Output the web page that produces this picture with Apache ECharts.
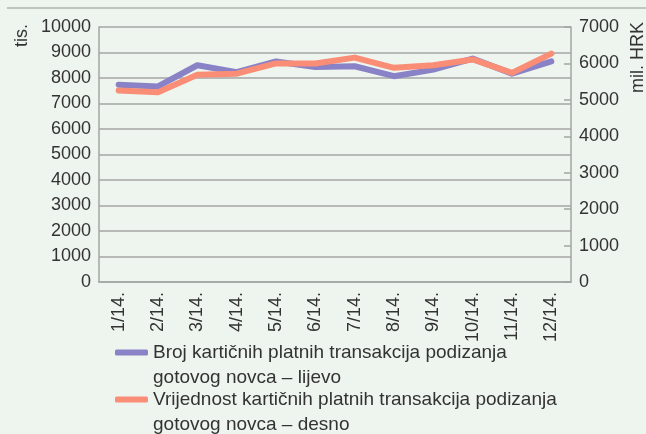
<!DOCTYPE html>
<html>
<head>
<meta charset="utf-8">
<script src="https://cdn.jsdelivr.net/npm/echarts@6/dist/echarts.min.js"></script>
<style>
  html, body { margin: 0; padding: 0; background: #eef4ee; }
  #chart { width: 646px; height: 434px; }
</style>
</head>
<body>
<div id="chart"></div>
<script>
// podaci
var months = ['1/14.', '2/14.', '3/14.', '4/14.', '5/14.', '6/14.', '7/14.', '8/14.', '9/14.', '10/14.', '11/14.', '12/14.'];
var brojTransakcija = [7740, 7670, 8500, 8230, 8650, 8430, 8460, 8070, 8330, 8760, 8170, 8650];
var vrijednostTransakcija = [5260, 5210, 5690, 5720, 6000, 6000, 6160, 5880, 5950, 6110, 5740, 6270];
var seriesNames = [
  'Broj karti\u010dnih platnih transakcija podizanja\ngotovog novca \u2013 lijevo',
  'Vrijednost karti\u010dnih platnih transakcija podizanja\ngotovog novca \u2013 desno'
];

var myChart = echarts.init(document.getElementById('chart'));
var font = '"Liberation Sans", Arial, sans-serif';
var gray = '#a3a6a3';
var plain = function (v) { return String(v); };

var option = {
  backgroundColor: '#eef4ee',
  textStyle: { fontFamily: font },
  grid: { left: 99, right: 75, top: 27, bottom: 152 },
  legend: {
    orient: 'vertical',
    left: 110,
    top: 310,
    height: 200,
    padding: 5,
    itemWidth: 33,
    itemHeight: 6,
    itemGap: -28,
    icon: 'roundRect',
    // prazan red iznad, da ikona stoji uz prvi red teksta
    formatter: function (name) { return '\n' + name; },
    textStyle: { fontSize: 19, color: '#333', lineHeight: 25 },
    data: seriesNames
  },
  xAxis: {
    type: 'category',
    data: months,
    boundaryGap: true,
    axisLine: { lineStyle: { color: gray, width: 1.5 } },
    axisTick: { show: false },
    axisLabel: { rotate: 90, fontSize: 18, color: '#333', margin: 10, interval: 0 }
  },
  yAxis: [{
    type: 'value',
    min: 0, max: 10000, interval: 1000,
    axisLine: { show: true, lineStyle: { color: gray, width: 1.5 } },
    axisTick: { show: false },
    axisLabel: { fontSize: 18, color: '#333', margin: 8, formatter: plain },
    splitLine: { lineStyle: { color: gray, width: 1.5 } }
  }, {
    type: 'value',
    min: 0, max: 7000, interval: 1000,
    axisLine: { show: true, lineStyle: { color: gray, width: 1.5 } },
    axisTick: { show: true, inside: true, length: 7, lineStyle: { color: gray, width: 1.5 } },
    axisLabel: { fontSize: 18, color: '#333', margin: 8, formatter: plain },
    splitLine: { show: false }
  }],
  graphic: [
    { type: 'line', shape: { x1: 7, y1: 8, x2: 646, y2: 8 }, style: { stroke: '#b0b3b0', lineWidth: 1.5 } },
    { type: 'text', x: 22, y: 24, rotation: Math.PI / 2,
      style: { text: 'tis.', font: '18px ' + font, fill: '#333', align: 'right', verticalAlign: 'middle' } },
    { type: 'text', x: 638, y: 22, rotation: Math.PI / 2,
      style: { text: 'mil. HRK', font: '18px ' + font, fill: '#333', align: 'right', verticalAlign: 'middle' } }
  ],
  series: [{
    name: seriesNames[0],
    type: 'line',
    yAxisIndex: 0,
    data: brojTransakcija,
    symbol: 'none',
    color: '#8a82c6',
    lineStyle: { width: 6, color: '#8a82c6', cap: 'round', join: 'round' }
  }, {
    name: seriesNames[1],
    type: 'line',
    yAxisIndex: 1,
    data: vrijednostTransakcija,
    symbol: 'none',
    color: '#f98d76',
    lineStyle: { width: 6, color: '#f98d76', cap: 'round', join: 'round' }
  }]
};

myChart.setOption(option);
</script>
</body>
</html>
